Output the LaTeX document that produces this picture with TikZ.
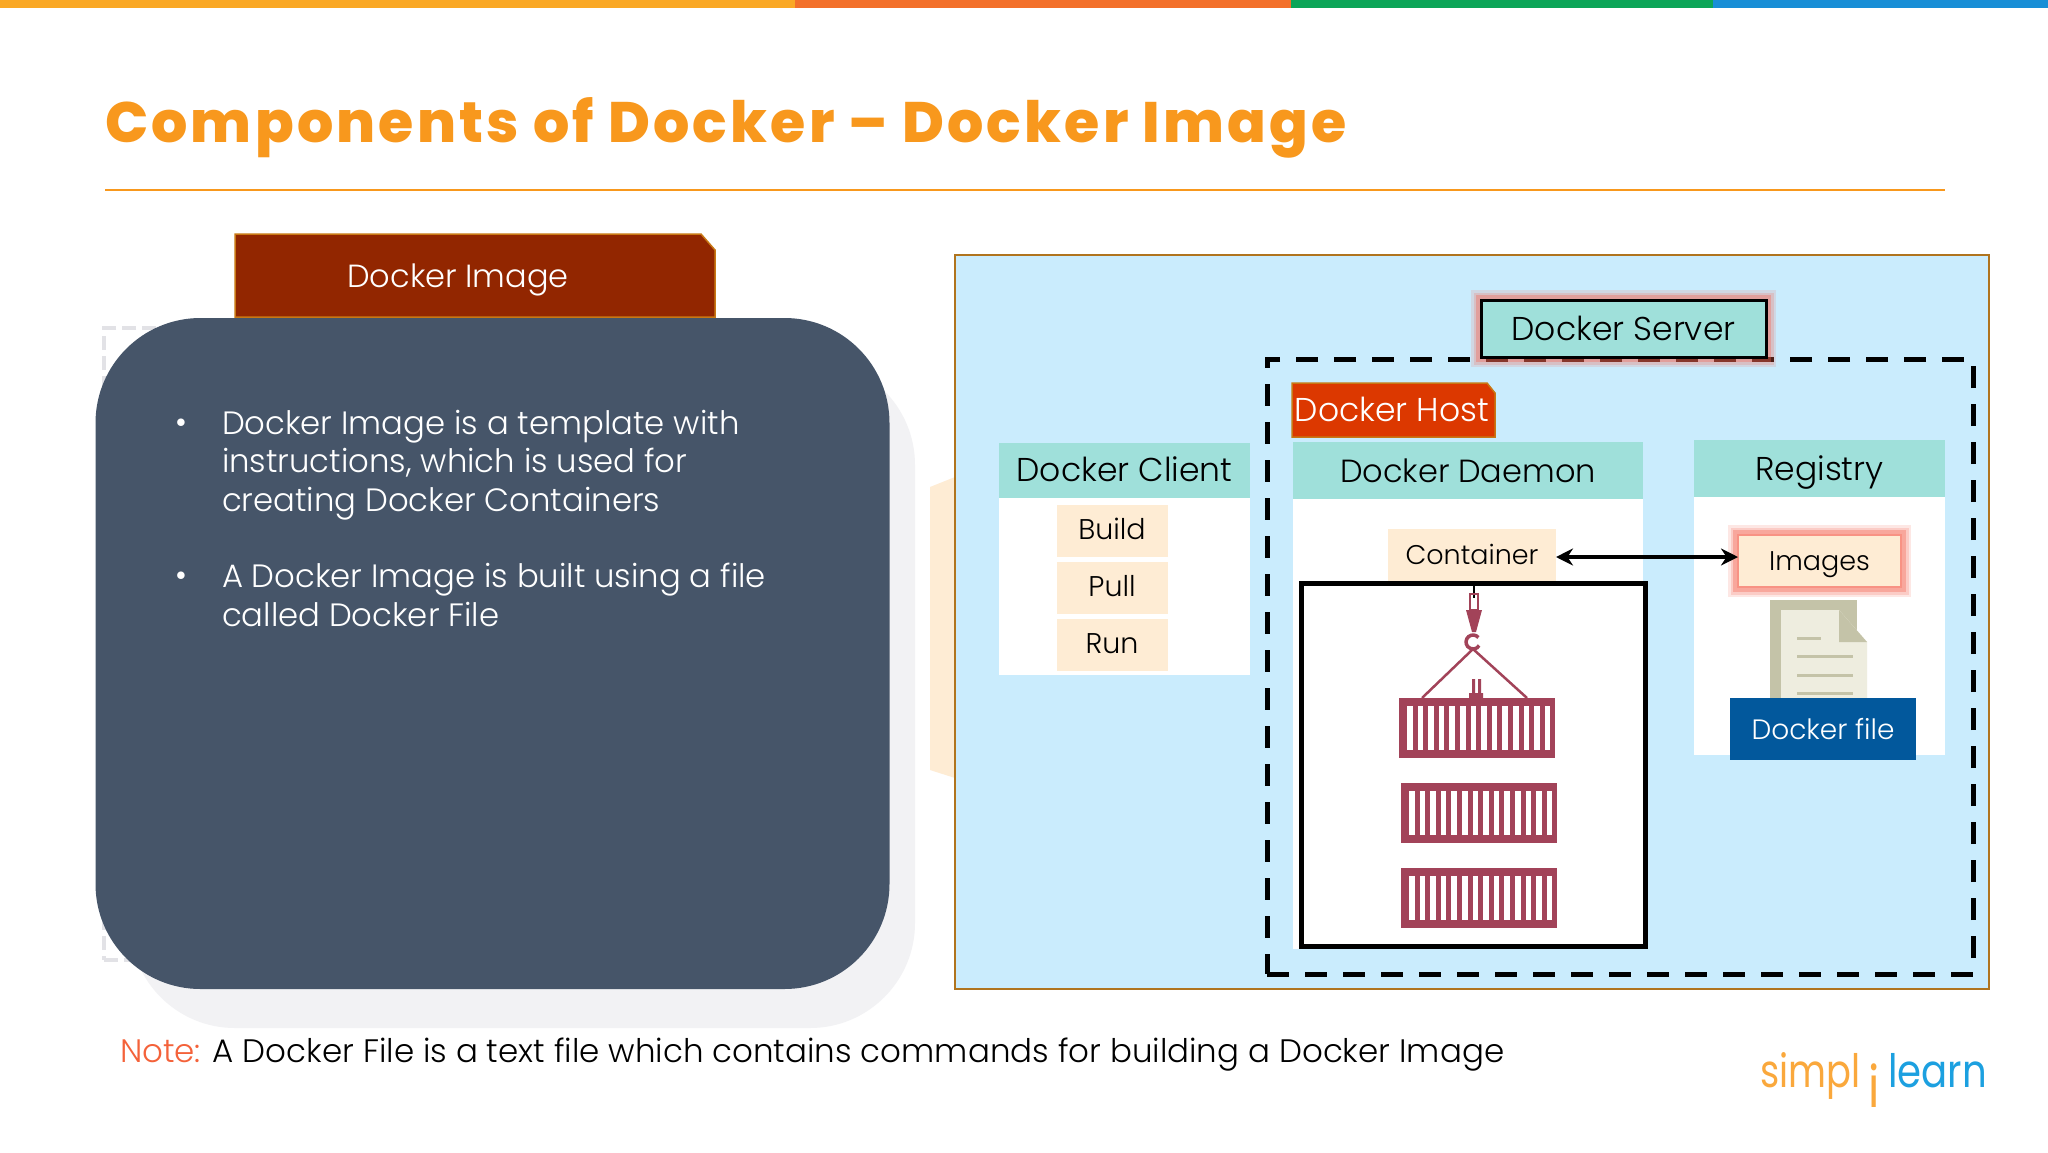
\documentclass[tikz,border=0pt]{standalone}
\usepackage{fontspec}
\setmainfont{Poppins}[UprightFont=* Light,BoldFont=* ExtraBold]
\newfontfamily\logofont{Poppins}
\usetikzlibrary{arrows.meta,positioning,shapes}
\definecolor{topamber}{RGB}{250, 168, 37}
\definecolor{toporange}{RGB}{243, 112, 42}
\definecolor{topgreen}{RGB}{12, 165, 88}
\definecolor{topblue}{RGB}{24, 142, 214}
\definecolor{titleorange}{RGB}{248, 152, 29}
\definecolor{slate}{RGB}{70, 85, 105}
\definecolor{shade}{RGB}{242, 242, 244}
\definecolor{ghost}{RGB}{226, 226, 230}
\definecolor{rust}{RGB}{146, 38, 0}
\definecolor{edge}{RGB}{200, 120, 20}
\definecolor{sky}{RGB}{202, 236, 253}
\definecolor{panel}{RGB}{176, 116, 30}
\definecolor{teal}{RGB}{159, 224, 218}
\definecolor{cream}{RGB}{254, 236, 212}
\definecolor{fire}{RGB}{220, 56, 0}
\definecolor{halored}{RGB}{245, 100, 80}
\definecolor{navy}{RGB}{2, 88, 156}
\definecolor{crate}{RGB}{162, 67, 89}
\definecolor{paperback}{RGB}{196, 195, 168}
\definecolor{paper}{RGB}{238, 237, 223}
\definecolor{notered}{RGB}{244, 98, 58}
\definecolor{logoblue}{RGB}{28, 160, 224}
\definecolor{logoorange}{RGB}{250, 168, 60}
\newcommand{\fs}[2]{\fontsize{#1}{#2}\selectfont}
\tikzstyle{block} = [rectangle, inner sep=0pt, outer sep=0pt, text=black]
\tikzstyle{header} = [block, fill=teal, text height=24pt, text depth=1pt, font=\fs{33}{38}]
\tikzstyle{body} = [block, fill=white]
\tikzstyle{step box} = [block, fill=cream, minimum height=52pt, text height=22pt, text depth=4pt, font=\fs{27}{32}]
\tikzstyle{tab} = [draw=edge, line width=1.5pt]
\tikzstyle{line} = [draw, line width=4pt, color=black, {Stealth[length=17pt,width=17pt]}-{Stealth[length=17pt,width=17pt]}]
\tikzset{
  halo/.style={
    preaction={draw=#1,line width=20pt,opacity=.15},
    preaction={draw=#1,line width=15pt,opacity=.2},
    preaction={draw=#1,line width=10pt,opacity=.35},
  },
  slide text/.style={inner sep=0pt, outer sep=0pt, anchor=west, align=left},
}
\begin{document}
\begin{tikzpicture}[x=1pt,y=-1pt]
  \useasboundingbox (0,0) rectangle (2048,1152);
  \fill[white] (0,0) rectangle (2048,1152);

  %%%%%%%%%%%%%%%%%%%%%%%%%%%%%%%%%%%%%%%%%%%%%%%%%%%%%%%%%%%%%%
  %                    TITLE AND TOP BAR                       %
  %%%%%%%%%%%%%%%%%%%%%%%%%%%%%%%%%%%%%%%%%%%%%%%%%%%%%%%%%%%%%%

  \foreach \xa/\xb/\barcolor in {0/795/topamber,795/1291/toporange,1291/1713/topgreen,1713/2048/topblue}
    \fill[\barcolor] (\xa,0) rectangle (\xb,8);

  \node [slide text, font=\fs{57}{60}\bfseries\addfontfeature{LetterSpace=5.7}, text=titleorange] (title) at (105,128) {Components of Docker -- Docker Image};
  \draw [titleorange, line width=2pt] (105,190) -- (1945,190);

  %%%%%%%%%%%%%%%%%%%%%%%%%%%%%%%%%%%%%%%%%%%%%%%%%%%%%%%%%%%%%%
  %                    LEFT CARD                               %
  %%%%%%%%%%%%%%%%%%%%%%%%%%%%%%%%%%%%%%%%%%%%%%%%%%%%%%%%%%%%%%

  \node [block, minimum width=785pt, minimum height=668pt, fill=shade, rounded corners=105pt] (card-shadow) at (522.5,694) {};
  \node [block, minimum width=200pt, minimum height=632pt, draw=ghost, line width=4pt, dash pattern=on 14pt off 6pt] (card-ghost) at (204,644) {};
  \draw [tab, fill=rust] (235,234) -- (701,234) -- (715,250) -- (715,317) -- (235,317) -- cycle;
  \node [slide text, anchor=center, text=white, font=\fs{32}{36}] (image-label) at (458,280) {Docker Image};
  \node [block, minimum width=794pt, minimum height=671pt, fill=slate, rounded corners=105pt] (card) at (492.5,653.5) {};

  \node [slide text, text=white, font=\fs{32.3}{38.5}] (dot-one) at (175,426) {•};
  \node [slide text, text=white, font=\fs{32.3}{38.5}] (point-one) at (222,465) {
    Docker Image is a template with\\
    instructions, which is used for\\
    creating Docker Containers};
  \node [slide text, text=white, font=\fs{32.3}{38.5}] (dot-two) at (175,579) {•};
  \node [slide text, text=white, font=\fs{32.3}{38.5}] (point-two) at (222,595) {
    A Docker Image is built using a file\\
    called Docker File};

  %%%%%%%%%%%%%%%%%%%%%%%%%%%%%%%%%%%%%%%%%%%%%%%%%%%%%%%%%%%%%%
  %                    RIGHT PANEL                             %
  %%%%%%%%%%%%%%%%%%%%%%%%%%%%%%%%%%%%%%%%%%%%%%%%%%%%%%%%%%%%%%

  \fill [cream] (930,487) -- (955,477) -- (955,778) -- (930,770) -- cycle;
  \node [block, minimum width=1034pt, minimum height=734pt, fill=sky, draw=panel, line width=2pt] (panel) at (1472,622) {};
  \node [block, minimum width=706pt, minimum height=615pt, draw=black, line width=5pt, dash pattern=on 22pt off 16pt] (host-frame) at (1620,666.5) {};
  \node [block, minimum width=285pt, minimum height=57pt, fill=teal, draw=black, line width=3pt, halo=halored, font=\fs{33}{38}] (server) at (1623.5,328.5) {Docker Server};
  \draw [tab, fill=fire] (1292,383) -- (1487,383) -- (1495,393) -- (1495,437) -- (1292,437) -- cycle;
  \node [block, text=white, font=\fs{33}{38}] (host) at (1392,409) {Docker Host};

  %%%%%%%%%%%%%%%%%%%%%%%%%%%%%%%%%%%%%%%%%%%%%%%%%%%%%%%%%%%%%%
  %                    DOCKER CLIENT                           %
  %%%%%%%%%%%%%%%%%%%%%%%%%%%%%%%%%%%%%%%%%%%%%%%%%%%%%%%%%%%%%%

  \node [header, minimum width=251pt, minimum height=55pt] (client) at (1124.5,470) {Docker Client};
  \node [body, minimum width=251pt, minimum height=177pt, below = 0pt of client] (client-body) {};
  \node [step box, minimum width=111pt, font=\fs{28.5}{32}] (build) at (1112,530.5) {Build};
  \node [step box, minimum width=111pt, font=\fs{28.5}{32}, below = 5pt of build] (pull) {Pull};
  \node [step box, minimum width=111pt, font=\fs{28.5}{32}, below = 5pt of pull] (run) {Run};

  %%%%%%%%%%%%%%%%%%%%%%%%%%%%%%%%%%%%%%%%%%%%%%%%%%%%%%%%%%%%%%
  %                    DOCKER DAEMON                           %
  %%%%%%%%%%%%%%%%%%%%%%%%%%%%%%%%%%%%%%%%%%%%%%%%%%%%%%%%%%%%%%

  \node [header, minimum width=350pt, minimum height=57pt, font=\fs{32}{38}] (daemon) at (1468,470.5) {Docker Daemon};
  \node [body, minimum width=350pt, minimum height=450pt, below = 0pt of daemon] (daemon-body) {};
  \node [block, fill=white, draw=black, line width=5pt, minimum width=344pt, minimum height=363pt] (yard) at (1473,764.5) {};
  \node [step box, minimum width=168pt] (container) at (1472,555) {Container};

  % hook and slings
  \draw [black, line width=1.5pt] (1474,586) -- (1474,598);
  \draw [crate, line width=1.5pt] (1470,594) rectangle (1478,610);
  \fill [crate] (1466,610) -- (1482,610) -- (1476,632) -- (1472,632) -- cycle;
  \draw [crate, line width=3.5pt] (1478.4,637.5) arc [start angle=40, end angle=330, radius=7pt];
  \draw [crate, line width=2.5pt] (1422,698) -- (1473,649) -- (1527,698);
  \fill [crate] (1472,679) rectangle (1475,694) (1478,679) rectangle (1481,694) (1469,693) rectangle (1483,698);

  % stacked boxes
  \foreach \cx/\cy in {1399/698,1401/783,1401/868} {
    \fill [crate] (\cx,\cy) rectangle ++(156,60);
    \foreach \i in {0,...,13}
      \fill [white] ({\cx+8+\i*10.6},\cy+8) rectangle ++(5.5,44);
  }

  %%%%%%%%%%%%%%%%%%%%%%%%%%%%%%%%%%%%%%%%%%%%%%%%%%%%%%%%%%%%%%
  %                    REGISTRY                                %
  %%%%%%%%%%%%%%%%%%%%%%%%%%%%%%%%%%%%%%%%%%%%%%%%%%%%%%%%%%%%%%

  \node [header, minimum width=251pt, minimum height=57pt] (registry) at (1819.5,468.5) {Registry};
  \node [body, minimum width=251pt, minimum height=258pt, below = 0pt of registry] (registry-body) {};
  \node [step box, draw=halored!70, line width=2pt, halo=halored, minimum width=163pt] (images) at (1819.5,561) {Images};

  % file sheet
  \fill [paperback] (1770,600) rectangle (1857,698);
  \fill [paper] (1781,610) -- (1839,610) -- (1867,642) -- (1867,698) -- (1781,698) -- cycle;
  \fill [paperback] (1839,610) -- (1839,642) -- (1867,642) -- cycle;
  \draw [paperback, line width=3pt] (1797,638) -- (1821,638) (1797,656) -- (1853,656) (1797,675) -- (1853,675) (1797,693) -- (1853,693);

  \node [block, fill=navy, text=white, minimum width=186pt, minimum height=62pt, font=\fs{28}{32}] (docker-file) at (1823,729) {Docker file};

  \draw [line] ([yshift=-2pt]container.east) -- ([yshift=-2pt]container.east -| images.west);

  %%%%%%%%%%%%%%%%%%%%%%%%%%%%%%%%%%%%%%%%%%%%%%%%%%%%%%%%%%%%%%
  %                    NOTE AND LOGO                           %
  %%%%%%%%%%%%%%%%%%%%%%%%%%%%%%%%%%%%%%%%%%%%%%%%%%%%%%%%%%%%%%

  \node [slide text, font=\fs{32.5}{36}] (note) at (120,1055) {\textcolor{notered}{Note:} A Docker File is a text file which contains commands for building a Docker Image};

  \node [slide text, anchor=base west, text=logoorange, font=\fs{46}{48}\logofont, xscale=.8] (logo-left) at (1760,1087) {simpl};
  \node [slide text, anchor=base, text=logoorange, font=\fs{46}{48}\logofont, yscale=1.25] (logo-mid) at (1874,1107) {i};
  \node [slide text, anchor=base west, text=logoblue, font=\fs{46}{48}\logofont, xscale=.84] (logo-right) at (1888,1087) {learn};
\end{tikzpicture}
\end{document}
